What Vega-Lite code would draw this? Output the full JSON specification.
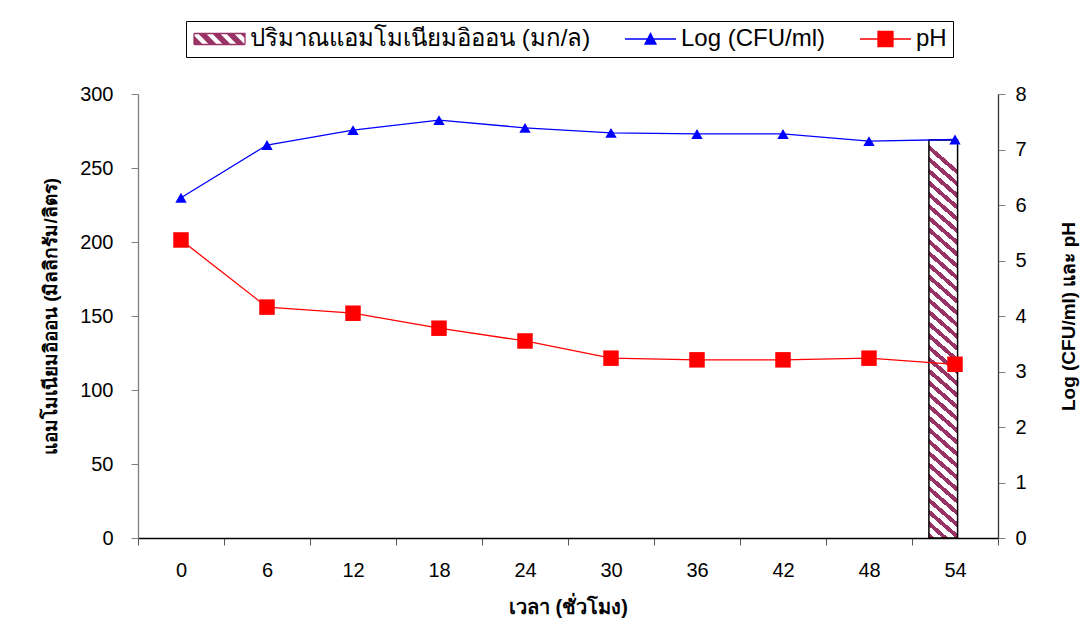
{
  "$schema": "https://vega.github.io/schema/vega-lite/v6.json",
  "width": 860,
  "height": 444,
  "autosize": {"type": "none"},
  "padding": {"left": 138, "top": 94, "right": 82, "bottom": 99},
  "background": "white",
  "config": {
    "view": {"stroke": null},
    "font": "Liberation Sans",
    "axis": {"grid": false, "labelColor": "black", "titleColor": "black", "labelFont": "Liberation Sans", "titleFont": "Liberation Sans", "titleFontWeight": "bold"}
  },
  "datasets": {
    "ammonia": [
      {"hour": 54, "series": "ปริมาณแอมโมเนียมอิออน (มก/ล)", "ammonia": 269}
    ],
    "measures": [
      {"hour": 0, "series": "Log (CFU/ml)", "value": 6.13},
      {"hour": 6, "series": "Log (CFU/ml)", "value": 7.08},
      {"hour": 12, "series": "Log (CFU/ml)", "value": 7.35},
      {"hour": 18, "series": "Log (CFU/ml)", "value": 7.53},
      {"hour": 24, "series": "Log (CFU/ml)", "value": 7.39},
      {"hour": 30, "series": "Log (CFU/ml)", "value": 7.30},
      {"hour": 36, "series": "Log (CFU/ml)", "value": 7.28},
      {"hour": 42, "series": "Log (CFU/ml)", "value": 7.28},
      {"hour": 48, "series": "Log (CFU/ml)", "value": 7.15},
      {"hour": 54, "series": "Log (CFU/ml)", "value": 7.18},
      {"hour": 0, "series": "pH", "value": 5.37},
      {"hour": 6, "series": "pH", "value": 4.16},
      {"hour": 12, "series": "pH", "value": 4.05},
      {"hour": 18, "series": "pH", "value": 3.78},
      {"hour": 24, "series": "pH", "value": 3.55},
      {"hour": 30, "series": "pH", "value": 3.24},
      {"hour": 36, "series": "pH", "value": 3.21},
      {"hour": 42, "series": "pH", "value": 3.21},
      {"hour": 48, "series": "pH", "value": 3.24},
      {"hour": 54, "series": "pH", "value": 3.13}
    ]
  },
  "layer": [
    {
      "data": {"name": "ammonia"},
      "mark": {
        "type": "bar",
        "stroke": "black",
        "strokeWidth": 1.5,
        "fill": {
          "gradient": "linear", "x1": 0, "y1": 1, "x2": 0.0627, "y2": 0,
          "stops": [
            {"offset": 0, "color": "#993366"}, {"offset": 0.0132, "color": "#993366"}, {"offset": 0.0132, "color": "#ffffff"}, {"offset": 0.02941, "color": "#ffffff"},
            {"offset": 0.02941, "color": "#993366"}, {"offset": 0.04261, "color": "#993366"}, {"offset": 0.04261, "color": "#ffffff"}, {"offset": 0.05882, "color": "#ffffff"},
            {"offset": 0.05882, "color": "#993366"}, {"offset": 0.07202, "color": "#993366"}, {"offset": 0.07202, "color": "#ffffff"}, {"offset": 0.08824, "color": "#ffffff"},
            {"offset": 0.08824, "color": "#993366"}, {"offset": 0.10144, "color": "#993366"}, {"offset": 0.10144, "color": "#ffffff"}, {"offset": 0.11765, "color": "#ffffff"},
            {"offset": 0.11765, "color": "#993366"}, {"offset": 0.13085, "color": "#993366"}, {"offset": 0.13085, "color": "#ffffff"}, {"offset": 0.14706, "color": "#ffffff"},
            {"offset": 0.14706, "color": "#993366"}, {"offset": 0.16026, "color": "#993366"}, {"offset": 0.16026, "color": "#ffffff"}, {"offset": 0.17647, "color": "#ffffff"},
            {"offset": 0.17647, "color": "#993366"}, {"offset": 0.18967, "color": "#993366"}, {"offset": 0.18967, "color": "#ffffff"}, {"offset": 0.20588, "color": "#ffffff"},
            {"offset": 0.20588, "color": "#993366"}, {"offset": 0.21908, "color": "#993366"}, {"offset": 0.21908, "color": "#ffffff"}, {"offset": 0.23529, "color": "#ffffff"},
            {"offset": 0.23529, "color": "#993366"}, {"offset": 0.24849, "color": "#993366"}, {"offset": 0.24849, "color": "#ffffff"}, {"offset": 0.26471, "color": "#ffffff"},
            {"offset": 0.26471, "color": "#993366"}, {"offset": 0.27791, "color": "#993366"}, {"offset": 0.27791, "color": "#ffffff"}, {"offset": 0.29412, "color": "#ffffff"},
            {"offset": 0.29412, "color": "#993366"}, {"offset": 0.30732, "color": "#993366"}, {"offset": 0.30732, "color": "#ffffff"}, {"offset": 0.32353, "color": "#ffffff"},
            {"offset": 0.32353, "color": "#993366"}, {"offset": 0.33673, "color": "#993366"}, {"offset": 0.33673, "color": "#ffffff"}, {"offset": 0.35294, "color": "#ffffff"},
            {"offset": 0.35294, "color": "#993366"}, {"offset": 0.36614, "color": "#993366"}, {"offset": 0.36614, "color": "#ffffff"}, {"offset": 0.38235, "color": "#ffffff"},
            {"offset": 0.38235, "color": "#993366"}, {"offset": 0.39555, "color": "#993366"}, {"offset": 0.39555, "color": "#ffffff"}, {"offset": 0.41176, "color": "#ffffff"},
            {"offset": 0.41176, "color": "#993366"}, {"offset": 0.42496, "color": "#993366"}, {"offset": 0.42496, "color": "#ffffff"}, {"offset": 0.44118, "color": "#ffffff"},
            {"offset": 0.44118, "color": "#993366"}, {"offset": 0.45438, "color": "#993366"}, {"offset": 0.45438, "color": "#ffffff"}, {"offset": 0.47059, "color": "#ffffff"},
            {"offset": 0.47059, "color": "#993366"}, {"offset": 0.48379, "color": "#993366"}, {"offset": 0.48379, "color": "#ffffff"}, {"offset": 0.5, "color": "#ffffff"},
            {"offset": 0.5, "color": "#993366"}, {"offset": 0.5132, "color": "#993366"}, {"offset": 0.5132, "color": "#ffffff"}, {"offset": 0.52941, "color": "#ffffff"},
            {"offset": 0.52941, "color": "#993366"}, {"offset": 0.54261, "color": "#993366"}, {"offset": 0.54261, "color": "#ffffff"}, {"offset": 0.55882, "color": "#ffffff"},
            {"offset": 0.55882, "color": "#993366"}, {"offset": 0.57202, "color": "#993366"}, {"offset": 0.57202, "color": "#ffffff"}, {"offset": 0.58824, "color": "#ffffff"},
            {"offset": 0.58824, "color": "#993366"}, {"offset": 0.60144, "color": "#993366"}, {"offset": 0.60144, "color": "#ffffff"}, {"offset": 0.61765, "color": "#ffffff"},
            {"offset": 0.61765, "color": "#993366"}, {"offset": 0.63085, "color": "#993366"}, {"offset": 0.63085, "color": "#ffffff"}, {"offset": 0.64706, "color": "#ffffff"},
            {"offset": 0.64706, "color": "#993366"}, {"offset": 0.66026, "color": "#993366"}, {"offset": 0.66026, "color": "#ffffff"}, {"offset": 0.67647, "color": "#ffffff"},
            {"offset": 0.67647, "color": "#993366"}, {"offset": 0.68967, "color": "#993366"}, {"offset": 0.68967, "color": "#ffffff"}, {"offset": 0.70588, "color": "#ffffff"},
            {"offset": 0.70588, "color": "#993366"}, {"offset": 0.71908, "color": "#993366"}, {"offset": 0.71908, "color": "#ffffff"}, {"offset": 0.73529, "color": "#ffffff"},
            {"offset": 0.73529, "color": "#993366"}, {"offset": 0.74849, "color": "#993366"}, {"offset": 0.74849, "color": "#ffffff"}, {"offset": 0.76471, "color": "#ffffff"},
            {"offset": 0.76471, "color": "#993366"}, {"offset": 0.77791, "color": "#993366"}, {"offset": 0.77791, "color": "#ffffff"}, {"offset": 0.79412, "color": "#ffffff"},
            {"offset": 0.79412, "color": "#993366"}, {"offset": 0.80732, "color": "#993366"}, {"offset": 0.80732, "color": "#ffffff"}, {"offset": 0.82353, "color": "#ffffff"},
            {"offset": 0.82353, "color": "#993366"}, {"offset": 0.83673, "color": "#993366"}, {"offset": 0.83673, "color": "#ffffff"}, {"offset": 0.85294, "color": "#ffffff"},
            {"offset": 0.85294, "color": "#993366"}, {"offset": 0.86614, "color": "#993366"}, {"offset": 0.86614, "color": "#ffffff"}, {"offset": 0.88235, "color": "#ffffff"},
            {"offset": 0.88235, "color": "#993366"}, {"offset": 0.89555, "color": "#993366"}, {"offset": 0.89555, "color": "#ffffff"}, {"offset": 0.91176, "color": "#ffffff"},
            {"offset": 0.91176, "color": "#993366"}, {"offset": 0.92496, "color": "#993366"}, {"offset": 0.92496, "color": "#ffffff"}, {"offset": 0.94118, "color": "#ffffff"},
            {"offset": 0.94118, "color": "#993366"}, {"offset": 0.95438, "color": "#993366"}, {"offset": 0.95438, "color": "#ffffff"}, {"offset": 0.97059, "color": "#ffffff"},
            {"offset": 0.97059, "color": "#993366"}, {"offset": 0.98379, "color": "#993366"}, {"offset": 0.98379, "color": "#ffffff"}, {"offset": 1, "color": "#ffffff"}
          ]
        }
      },
      "encoding": {
        "x": {
          "field": "hour", "type": "ordinal",
          "scale": {"domain": [0, 6, 12, 18, 24, 30, 36, 42, 48, 54], "paddingInner": 0, "paddingOuter": 0},
          "axis": {"title": "เวลา (ชั่วโมง)", "labelAngle": 0, "tickBand": "extent", "tickSize": 7, "labelPadding": 15, "labelFontSize": 20, "titleFontSize": 20, "titlePadding": 17, "domainColor": "black", "domainWidth": 1.3, "tickColor": "#555555"}
        },
        "xOffset": {"field": "series", "type": "nominal", "scale": {"paddingInner": 0, "paddingOuter": 1.22, "align": 0.295}},
        "y": {
          "field": "ammonia", "type": "quantitative",
          "scale": {"domain": [0, 300]},
          "axis": {"title": "แอมโมเนียมอิออน (มิลลิกรัม/ลิตร)", "values": [0, 50, 100, 150, 200, 250, 300], "tickSize": 7, "labelPadding": 18, "labelFontSize": 20, "titleFontSize": 19, "titlePadding": 19, "domainColor": "#7f7f7f", "domainWidth": 1.3, "tickColor": "#7f7f7f"}
        }
      }
    },
    {
      "data": {"name": "measures"},
      "encoding": {
        "x": {"field": "hour", "type": "ordinal", "scale": {"domain": [0, 6, 12, 18, 24, 30, 36, 42, 48, 54], "paddingInner": 0, "paddingOuter": 0}},
        "y": {
          "field": "value", "type": "quantitative",
          "scale": {"domain": [0, 8]},
          "axis": {"orient": "right", "title": "Log (CFU/ml) และ pH", "titleAngle": 270, "values": [0, 1, 2, 3, 4, 5, 6, 7, 8], "format": "d", "tickSize": 7, "labelPadding": 10, "labelFontSize": 20, "titleFontSize": 19, "titlePadding": 52, "domainColor": "#333333", "domainWidth": 1.3, "tickColor": "#7f7f7f"}
        }
      },
      "layer": [
        {
          "transform": [{"filter": "datum.series === 'Log (CFU/ml)'"}],
          "mark": {"type": "line", "strokeWidth": 1.3, "color": "#0000ff"}
        },
        {
          "transform": [{"filter": "datum.series === 'Log (CFU/ml)'"}],
          "mark": {"type": "point", "filled": true, "opacity": 1, "size": 130, "shape": "triangle-up", "color": "#0000ff"}
        },
        {
          "transform": [{"filter": "datum.series === 'pH'"}],
          "mark": {"type": "line", "strokeWidth": 1.3, "color": "#ff0000"}
        },
        {
          "transform": [{"filter": "datum.series === 'pH'"}],
          "mark": {"type": "point", "filled": true, "opacity": 1, "size": 240, "shape": "square", "color": "#ff0000"}
        },
        {
          "transform": [{"filter": "false"}],
          "mark": {"type": "point", "filled": true, "opacity": 1, "strokeWidth": 1.3},
          "encoding": {
            "color": {
              "field": "series", "type": "nominal",
              "scale": {
                "domain": ["ปริมาณแอมโมเนียมอิออน (มก/ล)", "Log (CFU/ml)", "pH"],
                "range": ["#993366", "#0000ff", "#ff0000"]
              },
              "legend": {
                "title": null, "orient": "none", "direction": "horizontal", "columns": 3,
                "legendX": 48, "legendY": -73,
                "strokeColor": "black", "fillColor": "white", "padding": 6,
                "symbolSize": 400, "symbolStrokeWidth": 1.3, "labelOffset": 34, "columnPadding": 31,
                "labelFont": "Liberation Sans", "labelFontSize": 24, "labelColor": "black", "labelLimit": 700
              }
            },
            "shape": {
              "field": "series", "type": "nominal",
              "scale": {
                "domain": ["ปริมาณแอมโมเนียมอิออน (มก/ล)", "Log (CFU/ml)", "pH"],
                "range": [
                  "M-1,-0.55L4.1,-0.55M4.1,-0.55L4.1,0.55M4.1,0.55L-1,0.55M-1,0.55L-1,-0.55M-1,-0.25L-0.2,0.55L-0.8,0.55L-1,0.35ZM-0.5,-0.55L0.1,-0.55L1.2,0.55L0.6,0.55ZM0.9,-0.55L1.5,-0.55L2.6,0.55L2.0,0.55ZM2.3,-0.55L2.9,-0.55L4.0,0.55L3.4,0.55ZM3.7,-0.55L4.1,-0.55L4.1,-0.15Z",
                  "M-1,0L4.1,0M1.0,0.5L1.55,-0.55L2.1,0.5Z",
                  "M-1,0L4.1,0M0.8,-0.75L2.3,-0.75L2.3,0.75L0.8,0.75Z"
                ]
              }
            },
            "stroke": {
              "field": "series", "type": "nominal",
              "scale": {
                "domain": ["ปริมาณแอมโมเนียมอิออน (มก/ล)", "Log (CFU/ml)", "pH"],
                "range": ["#993366", "#0000ff", "#ff0000"]
              }
            }
          }
        }
      ]
    }
  ],
  "resolve": {"scale": {"y": "independent"}}
}
